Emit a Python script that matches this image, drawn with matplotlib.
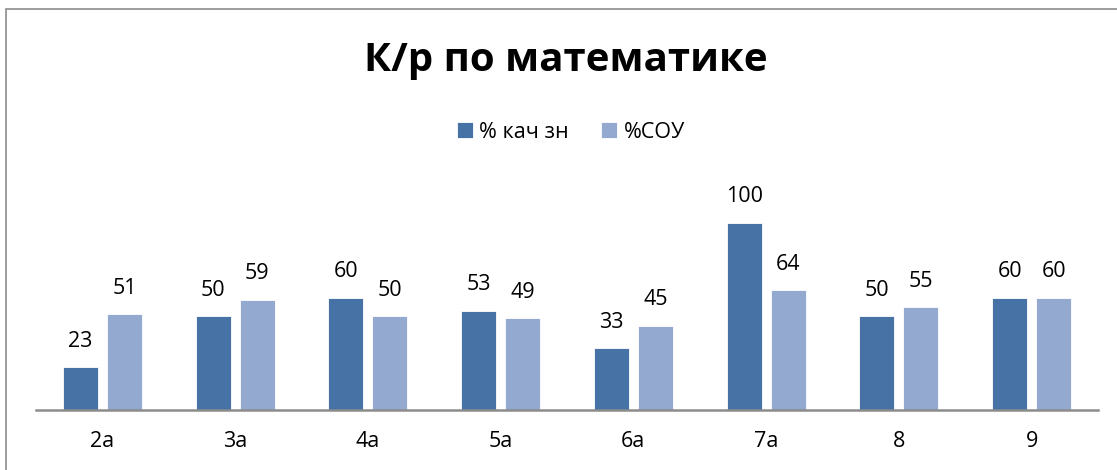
import numpy as np
import matplotlib.pyplot as plt
from matplotlib.patches import Rectangle

categories = ['2а', '3а', '4а', '5а', '6а', '7а', '8', '9']
kach_zn = [23, 50, 60, 53, 33, 100, 50, 60]
sou = [51, 59, 50, 49, 45, 64, 55, 60]
series_names = ['% кач зн', '%СОУ']

W, H = 1117, 470
FONT = ['Open Sans', 'DejaVu Sans']
plt.rcParams['font.family'] = FONT

fig = plt.figure(figsize=(W / 100, H / 100), dpi=100)
fig.patches.append(Rectangle((6 / W, -0.1), 1.2, 1 - 9 / H + 0.1,
                             transform=fig.transFigure, fill=False,
                             edgecolor='#8c8c8c', linewidth=1.2))

ax = fig.add_axes([36 / W, 60 / H, 1062 / W, 250 / H])
x = np.arange(len(categories))
w = 0.264
off = 0.166
b1 = ax.bar(x - off, kach_zn, w, color='#4672a6', edgecolor='white', linewidth=0.6,
            label=series_names[0])
b2 = ax.bar(x + off, sou, w, color='#94a9d0', edgecolor='white', linewidth=0.6,
            label=series_names[1])
for bars in (b1, b2):
    ax.bar_label(bars, padding=11, fontsize=15.5, color='black')

ax.set_xlim(-0.5, len(categories) - 0.5)
ax.set_ylim(0, 133.5)
ax.set_xticks(x)
ax.set_xticklabels(categories, fontsize=15.5)
ax.tick_params(axis='x', length=0, pad=15)
ax.set_yticks([])
for s in ('top', 'right', 'left'):
    ax.spines[s].set_visible(False)
ax.spines['bottom'].set_color('#8c8c8c')
ax.spines['bottom'].set_linewidth(1.8)

fig.text(566 / W, 1 - 61 / H, 'К/р по математике', ha='center', va='center',
         fontsize=29, fontweight='bold')
fig.legend(handles=[b1, b2], loc='center', bbox_to_anchor=(571 / W, 1 - 132 / H),
           ncol=2, frameon=False, fontsize=15.5, handlelength=0.75, handleheight=0.75,
           handletextpad=0.3, columnspacing=1.5)

fig.savefig('out.png', dpi=100)
